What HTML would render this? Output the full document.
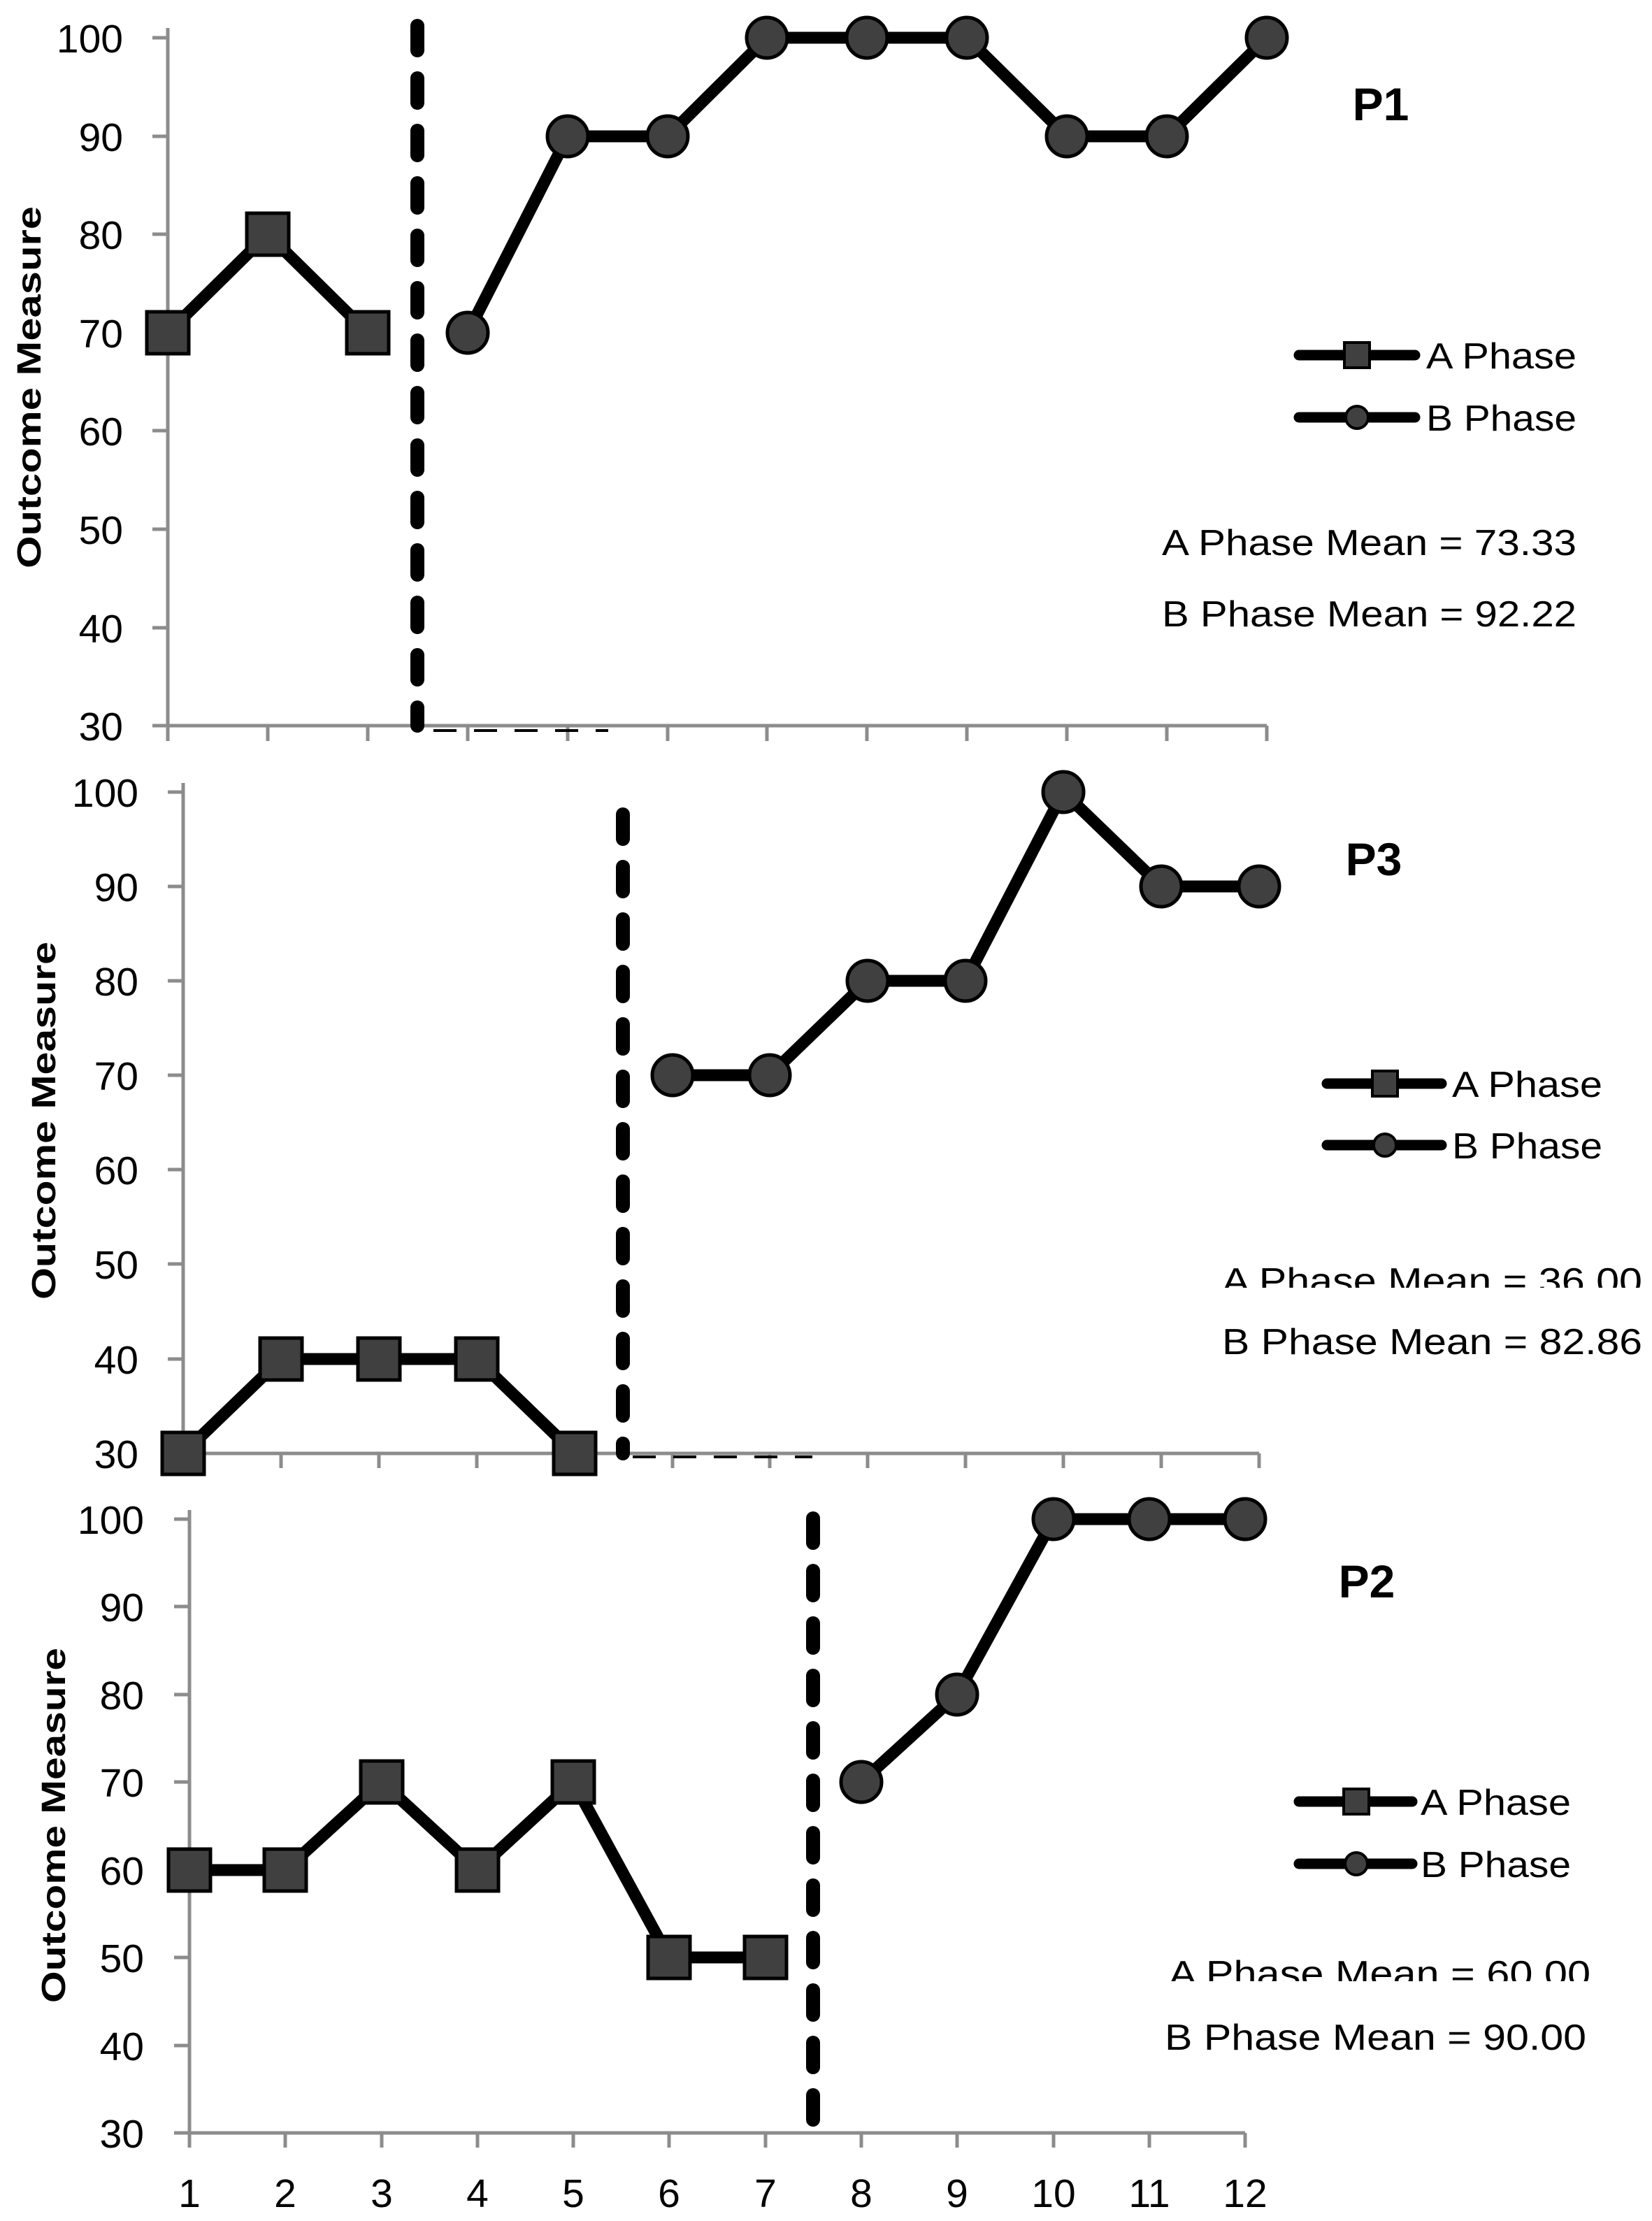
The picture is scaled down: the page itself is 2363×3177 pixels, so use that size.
<!DOCTYPE html>
<html><head><meta charset="utf-8"><style>
html,body{margin:0;padding:0;background:#fff;}
svg{display:block;}
text{font-family:"Liberation Sans",sans-serif;fill:#000;}
</style></head><body>
<svg width="2363" height="3177" viewBox="0 0 2363 3177" xmlns="http://www.w3.org/2000/svg">
<defs>
<clipPath id="c3"><rect x="0" y="0" width="2363" height="1842"/></clipPath>
<clipPath id="c2"><rect x="0" y="0" width="2363" height="2834"/></clipPath>
</defs>

<!-- ===== P1 ===== -->
<g stroke="#8c8c8c" stroke-width="5" fill="none">
<path d="M240 40V1038H1812"/>
<path d="M218 54H240M218 195H240M218 335H240M218 476H240M218 616H240M218 757H240M218 898H240M218 1038H240"/>
<path d="M240 1038V1060M383 1038V1060M526 1038V1060M669 1038V1060M812 1038V1060M955 1038V1060M1097 1038V1060M1240 1038V1060M1383 1038V1060M1526 1038V1060M1669 1038V1060M1812 1038V1060"/>
</g>
<g font-size="57" text-anchor="end">
<text x="176" y="75">100</text><text x="176" y="216">90</text><text x="176" y="356">80</text><text x="176" y="497">70</text><text x="176" y="637">60</text><text x="176" y="778">50</text><text x="176" y="919">40</text><text x="176" y="1059">30</text>
</g>
<text transform="translate(58,554) rotate(-90)" font-size="48" font-weight="bold" text-anchor="middle" textLength="518" lengthAdjust="spacingAndGlyphs">Outcome Measure</text>
<path d="M597 37V1038" stroke="#000" stroke-width="20" stroke-linecap="round" stroke-dasharray="35 40" fill="none"/>
<path d="M620 1045H870" stroke="#000" stroke-width="4" stroke-dasharray="33 25" fill="none"/>
<g stroke="#000" stroke-width="17" fill="none" stroke-linejoin="round">
<polyline points="240,476 383,335 526,476"/>
<polyline points="669,476 812,195 955,195 1097,54 1240,54 1383,54 1526,195 1669,195 1812,54"/>
</g>
<g fill="#404040" stroke="#000" stroke-width="5">
<rect x="210" y="446" width="60" height="60"/><rect x="353" y="305" width="60" height="60"/><rect x="496" y="446" width="60" height="60"/>
<circle cx="669" cy="476" r="29"/><circle cx="812" cy="195" r="29"/><circle cx="955" cy="195" r="29"/><circle cx="1097" cy="54" r="29"/><circle cx="1240" cy="54" r="29"/><circle cx="1383" cy="54" r="29"/><circle cx="1526" cy="195" r="29"/><circle cx="1669" cy="195" r="29"/><circle cx="1812" cy="54" r="29"/>
</g>
<text x="1975" y="172" font-size="66" font-weight="bold" text-anchor="middle">P1</text>
<g stroke="#000" stroke-width="15" stroke-linecap="round"><path d="M1858 508H2024M1858 597H2024"/></g>
<rect x="1923" y="490" width="36" height="36" fill="#404040" stroke="#000" stroke-width="4"/>
<circle cx="1941" cy="597" r="16" fill="#404040" stroke="#000" stroke-width="4"/>
<text x="2040" y="527" font-size="52" textLength="215" lengthAdjust="spacingAndGlyphs">A Phase</text>
<text x="2040" y="616" font-size="52" textLength="215" lengthAdjust="spacingAndGlyphs">B Phase</text>
<text x="1662" y="794" font-size="52" textLength="593" lengthAdjust="spacingAndGlyphs">A Phase Mean = 73.33</text>
<text x="1662" y="896" font-size="52" textLength="593" lengthAdjust="spacingAndGlyphs">B Phase Mean = 92.22</text>

<!-- ===== P3 ===== -->
<g stroke="#8c8c8c" stroke-width="5" fill="none">
<path d="M262 1120V2079H1801"/>
<path d="M240 1133H262M240 1268H262M240 1403H262M240 1538H262M240 1673H262M240 1808H262M240 1944H262M240 2079H262"/>
<path d="M262 2079V2100M402 2079V2100M542 2079V2100M682 2079V2100M822 2079V2100M962 2079V2100M1101 2079V2100M1241 2079V2100M1381 2079V2100M1521 2079V2100M1661 2079V2100M1801 2079V2100"/>
</g>
<g font-size="57" text-anchor="end">
<text x="198" y="1154">100</text><text x="198" y="1289">90</text><text x="198" y="1424">80</text><text x="198" y="1559">70</text><text x="198" y="1694">60</text><text x="198" y="1829">50</text><text x="198" y="1965">40</text><text x="198" y="2100">30</text>
</g>
<text transform="translate(79,1603) rotate(-90)" font-size="48" font-weight="bold" text-anchor="middle" textLength="512" lengthAdjust="spacingAndGlyphs">Outcome Measure</text>
<path d="M891 1165V2079" stroke="#000" stroke-width="20" stroke-linecap="round" stroke-dasharray="35 40" fill="none"/>
<path d="M905 2084H1162" stroke="#000" stroke-width="4" stroke-dasharray="33 25" fill="none"/>
<g stroke="#000" stroke-width="17" fill="none" stroke-linejoin="round">
<polyline points="262,2079 402,1944 542,1944 682,1944 822,2079"/>
<polyline points="962,1538 1101,1538 1241,1403 1381,1403 1521,1133 1661,1268 1801,1268"/>
</g>
<g fill="#404040" stroke="#000" stroke-width="5">
<rect x="232" y="2049" width="60" height="60"/><rect x="372" y="1914" width="60" height="60"/><rect x="512" y="1914" width="60" height="60"/><rect x="652" y="1914" width="60" height="60"/><rect x="792" y="2049" width="60" height="60"/>
<circle cx="962" cy="1538" r="29"/><circle cx="1101" cy="1538" r="29"/><circle cx="1241" cy="1403" r="29"/><circle cx="1381" cy="1403" r="29"/><circle cx="1521" cy="1133" r="29"/><circle cx="1661" cy="1268" r="29"/><circle cx="1801" cy="1268" r="29"/>
</g>
<text x="1965" y="1252" font-size="66" font-weight="bold" text-anchor="middle">P3</text>
<g stroke="#000" stroke-width="15" stroke-linecap="round"><path d="M1898 1550H2062M1898 1638H2062"/></g>
<rect x="1963" y="1532" width="36" height="36" fill="#404040" stroke="#000" stroke-width="4"/>
<circle cx="1981" cy="1638" r="16" fill="#404040" stroke="#000" stroke-width="4"/>
<text x="2077" y="1569" font-size="52" textLength="215" lengthAdjust="spacingAndGlyphs">A Phase</text>
<text x="2077" y="1657" font-size="52" textLength="215" lengthAdjust="spacingAndGlyphs">B Phase</text>
<text x="1748" y="1850" font-size="52" textLength="601" lengthAdjust="spacingAndGlyphs" clip-path="url(#c3)">A Phase Mean = 36.00</text>
<text x="1748" y="1937" font-size="52" textLength="601" lengthAdjust="spacingAndGlyphs">B Phase Mean = 82.86</text>

<!-- ===== P2 ===== -->
<g stroke="#8c8c8c" stroke-width="5" fill="none">
<path d="M271 2160V3051H1781"/>
<path d="M249 2173H271M249 2298H271M249 2424H271M249 2549H271M249 2675H271M249 2800H271M249 2926H271M249 3051H271"/>
<path d="M271 3051V3072M408 3051V3072M546 3051V3072M683 3051V3072M820 3051V3072M957 3051V3072M1095 3051V3072M1232 3051V3072M1369 3051V3072M1507 3051V3072M1644 3051V3072M1781 3051V3072"/>
</g>
<g font-size="57" text-anchor="end">
<text x="206" y="2194">100</text><text x="206" y="2319">90</text><text x="206" y="2445">80</text><text x="206" y="2570">70</text><text x="206" y="2696">60</text><text x="206" y="2821">50</text><text x="206" y="2947">40</text><text x="206" y="3072">30</text>
</g>
<g font-size="57" text-anchor="middle">
<text x="271" y="3157">1</text><text x="408" y="3157">2</text><text x="546" y="3157">3</text><text x="683" y="3157">4</text><text x="820" y="3157">5</text><text x="957" y="3157">6</text><text x="1095" y="3157">7</text><text x="1232" y="3157">8</text><text x="1369" y="3157">9</text><text x="1507" y="3157">10</text><text x="1644" y="3157">11</text><text x="1781" y="3157">12</text>
</g>
<text transform="translate(93,2611) rotate(-90)" font-size="48" font-weight="bold" text-anchor="middle" textLength="508" lengthAdjust="spacingAndGlyphs">Outcome Measure</text>
<path d="M1163 2172V3065" stroke="#000" stroke-width="20" stroke-linecap="round" stroke-dasharray="35 40" fill="none"/>
<g stroke="#000" stroke-width="17" fill="none" stroke-linejoin="round">
<polyline points="271,2675 408,2675 546,2549 683,2675 820,2549 957,2800 1095,2800"/>
<polyline points="1232,2549 1369,2424 1507,2173 1644,2173 1781,2173"/>
</g>
<g fill="#404040" stroke="#000" stroke-width="5">
<rect x="241" y="2645" width="60" height="60"/><rect x="378" y="2645" width="60" height="60"/><rect x="516" y="2519" width="60" height="60"/><rect x="653" y="2645" width="60" height="60"/><rect x="790" y="2519" width="60" height="60"/><rect x="927" y="2770" width="60" height="60"/><rect x="1065" y="2770" width="60" height="60"/>
<circle cx="1232" cy="2549" r="29"/><circle cx="1369" cy="2424" r="29"/><circle cx="1507" cy="2173" r="29"/><circle cx="1644" cy="2173" r="29"/><circle cx="1781" cy="2173" r="29"/>
</g>
<text x="1955" y="2285" font-size="66" font-weight="bold" text-anchor="middle">P2</text>
<g stroke="#000" stroke-width="15" stroke-linecap="round"><path d="M1858 2577H2020M1858 2666H2020"/></g>
<rect x="1922" y="2559" width="36" height="36" fill="#404040" stroke="#000" stroke-width="4"/>
<circle cx="1940" cy="2666" r="16" fill="#404040" stroke="#000" stroke-width="4"/>
<text x="2032" y="2596" font-size="52" textLength="215" lengthAdjust="spacingAndGlyphs">A Phase</text>
<text x="2032" y="2685" font-size="52" textLength="215" lengthAdjust="spacingAndGlyphs">B Phase</text>
<text x="1672" y="2841" font-size="52" textLength="603" lengthAdjust="spacingAndGlyphs" clip-path="url(#c2)">A Phase Mean = 60.00</text>
<text x="1666" y="2932" font-size="52" textLength="603" lengthAdjust="spacingAndGlyphs">B Phase Mean = 90.00</text>
</svg>
</body></html>
